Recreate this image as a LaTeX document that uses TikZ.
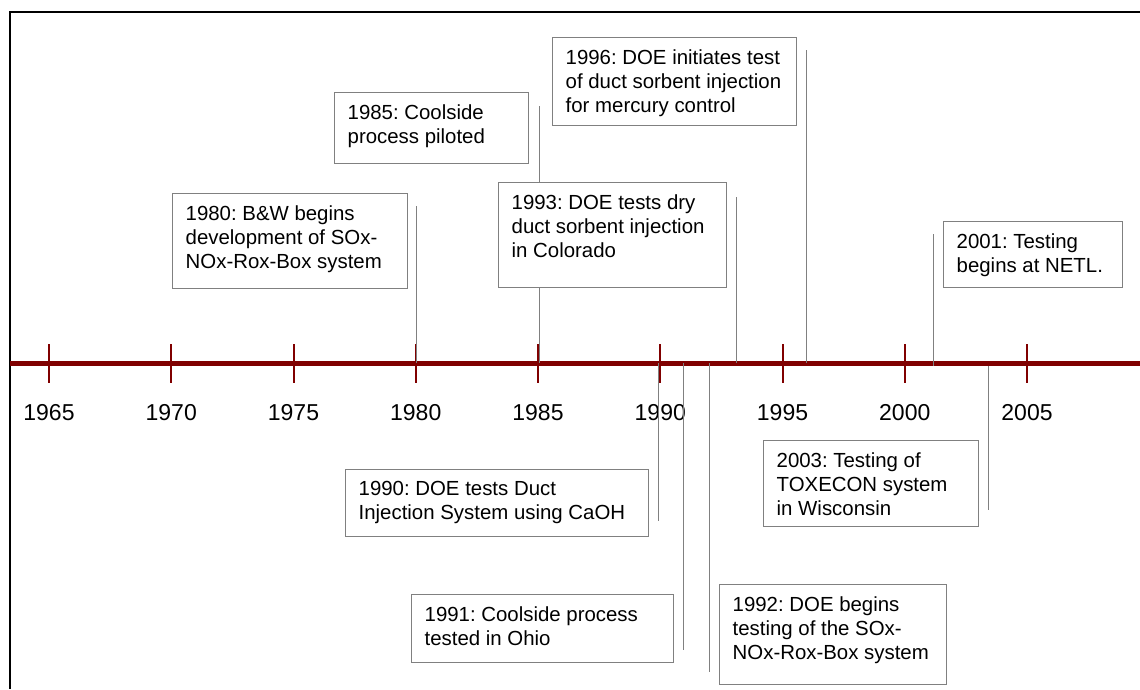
\documentclass[tikz,border=0pt]{standalone}
\usepackage{fontspec}
\setmainfont{Liberation Sans}
\frenchspacing
\definecolor{axisred}{HTML}{800000}
\definecolor{boxgray}{HTML}{808080}
\definecolor{conngray}{HTML}{808080}
\begin{document}
\begin{tikzpicture}[x=1pt,y=-1pt,
  frame/.style={line width=2pt, black},
  axisline/.style={line width=4.5pt, draw=axisred},
  yeartick/.style={line width=2pt, draw=axisred},
  yearlabel/.style={font=\fontsize{23}{27}\selectfont, inner sep=0pt},
  conn/.style={line width=1pt, draw=conngray},
  evbox/.style={draw=boxgray, line width=1.2pt, fill=white, anchor=north west, inner sep=0pt},
  evtext/.style={anchor=north west, inner sep=0pt, align=left, font=\fontsize{20.4}{24}\selectfont}
]
\useasboundingbox (0,0) rectangle (1140,689);
% frame
\draw[frame] (1140,12) -- (10,12) -- (10,689);
% axis
\coordinate (axL) at (10,363.5);
\coordinate (axR) at (1140,363.5);
\draw[axisline] (axL) -- (axR);
\foreach \yr [count=\i from 0] in {1965,1970,1975,1980,1985,1990,1995,2000,2005} {
  \pgfmathsetmacro\xx{49+122.25*\i}
  \coordinate (tt\yr) at (\xx,344);
  \coordinate (tb\yr) at (\xx,383);
  \draw[yeartick] (tt\yr) -- (tb\yr);
  \node[yearlabel] (y\yr) at (\xx,413) {\yr};
}
% connectors
\coordinate (c1980a) at (416,206); \coordinate (c1980b) at (416,363);
\coordinate (c1985a) at (539,106); \coordinate (c1985b) at (539,363);
\coordinate (c1993a) at (736,197); \coordinate (c1993b) at (736,363);
\coordinate (c1996a) at (806,50);  \coordinate (c1996b) at (806,363);
\coordinate (c2001a) at (933,234); \coordinate (c2001b) at (933,366);
\coordinate (c1990a) at (658,363); \coordinate (c1990b) at (658,521);
\coordinate (c1991a) at (683,363); \coordinate (c1991b) at (683,650);
\coordinate (c1992a) at (709,363); \coordinate (c1992b) at (709,672);
\coordinate (c2003a) at (988,366); \coordinate (c2003b) at (988,510);
\foreach \e in {1980,1985,1993,1996,2001,1990,1991,1992,2003} {
  \draw[conn] (c\e a) -- (c\e b);
}
% boxes
\node[evbox, minimum width=235, minimum height=95] (b1980) at (172,193) {};
\node[evbox, minimum width=194, minimum height=71] (b1985) at (334,92) {};
\node[evbox, minimum width=228, minimum height=105] (b1993) at (498,182) {};
\node[evbox, minimum width=244, minimum height=88] (b1996) at (552,37) {};
\node[evbox, minimum width=179, minimum height=66] (b2001) at (943,221) {};
\node[evbox, minimum width=303, minimum height=67] (b1990) at (345,469) {};
\node[evbox, minimum width=262, minimum height=68] (b1991) at (411,594) {};
\node[evbox, minimum width=227, minimum height=100] (b1992) at (719,584) {};
\node[evbox, minimum width=215, minimum height=86] (b2003) at (763,440) {};
% texts
\node[evtext] (t1980) at ([shift={(13.5,12.5)}]b1980.north west) {1980: B\&W begins\\development of SOx-\\NOx-Rox-Box system};
\node[evtext] (t1985) at ([shift={(13.5,12.5)}]b1985.north west) {1985: Coolside\\process piloted};
\node[evtext] (t1993) at ([shift={(13.5,12.5)}]b1993.north west) {1993: DOE tests dry\\duct sorbent injection\\in Colorado};
\node[evtext] (t1996) at ([shift={(13.5,12.5)}]b1996.north west) {1996: DOE initiates test\\of duct sorbent injection\\for mercury control};
\node[evtext] (t2001) at ([shift={(13.5,12.5)}]b2001.north west) {2001: Testing\\begins at NETL.};
\node[evtext] (t1990) at ([shift={(13.5,12.5)}]b1990.north west) {1990: DOE tests Duct\\Injection System using CaOH};
\node[evtext] (t1991) at ([shift={(13.5,12.5)}]b1991.north west) {1991: Coolside process\\tested in Ohio};
\node[evtext] (t1992) at ([shift={(13.5,12.5)}]b1992.north west) {1992: DOE begins\\testing of the SOx-\\NOx-Rox-Box system};
\node[evtext] (t2003) at ([shift={(13.5,12.5)}]b2003.north west) {2003: Testing of\\TOXECON system\\in Wisconsin};
\end{tikzpicture}
\end{document}
